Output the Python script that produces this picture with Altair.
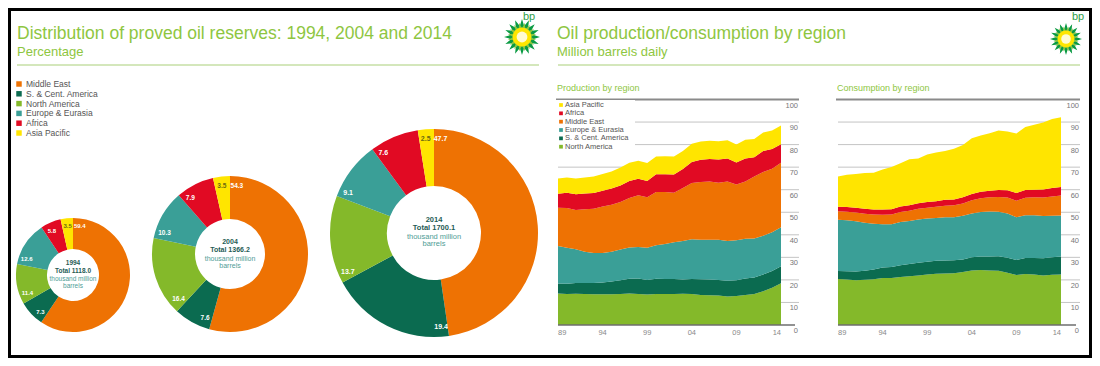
import math
import altair as alt
import pandas as pd

# ---------------- data ----------------
regions = ["Middle East", "S. & Cent. America", "North America",
           "Europe & Eurasia", "Africa", "Asia Pacific"]
region_colors = ["#ee7203", "#0b6b50", "#84b92a", "#3a9f97", "#e10a23", "#ffe500"]

reserve_years = [1994, 2004, 2014]
reserve_totals = ["1118.0", "1366.2", "1700.1"]
reserves_1994 = [59.4, 7.3, 11.4, 12.6, 5.8, 3.5]
reserves_2004 = [54.3, 7.6, 16.4, 10.3, 7.9, 3.5]
reserves_2014 = [47.7, 19.4, 13.7, 9.1, 7.6, 2.5]

years = list(range(1989, 2015))
# production, million barrels daily
prod_north_america = [14.0, 13.8, 13.9, 13.8, 13.6, 13.6, 13.6, 13.8, 14.0, 13.8, 13.5, 13.7, 13.7,
                      13.8, 13.9, 13.7, 13.3, 13.2, 13.1, 12.6, 12.9, 13.3, 13.7, 15.0, 16.5, 18.5]
prod_sc_america = [4.4, 4.5, 4.7, 4.8, 5.0, 5.3, 5.7, 6.1, 6.5, 6.8, 6.5, 6.8, 6.7,
                   6.6, 6.3, 6.7, 7.0, 7.0, 6.9, 7.0, 7.0, 7.3, 7.4, 7.4, 7.4, 7.6]
prod_europe_eurasia = [16.6, 16.0, 15.0, 13.9, 13.3, 13.0, 13.2, 13.6, 13.9, 14.0, 14.3, 14.9, 15.5,
                       16.3, 17.0, 17.6, 17.5, 17.6, 17.8, 17.6, 17.7, 17.7, 17.3, 17.2, 17.2, 17.2]
prod_middle_east = [17.0, 17.6, 17.4, 18.8, 19.6, 20.6, 20.8, 21.0, 21.9, 22.9, 22.3, 23.6, 23.1,
                    22.0, 23.5, 25.0, 25.6, 25.8, 25.3, 26.4, 24.7, 25.3, 27.5, 28.3, 28.2, 28.6]
prod_africa = [6.2, 6.7, 7.0, 7.0, 7.0, 7.0, 7.2, 7.4, 7.6, 7.4, 7.3, 7.8, 7.9,
               8.0, 8.5, 9.3, 9.9, 10.0, 10.3, 10.2, 9.8, 10.2, 8.5, 9.3, 8.8, 8.3]
prod_asia_pacific = [6.8, 6.8, 7.0, 7.1, 7.3, 7.5, 7.6, 7.9, 8.0, 7.9, 7.9, 7.9, 7.9,
                     8.0, 8.0, 8.1, 8.1, 8.1, 8.1, 8.1, 8.0, 8.4, 8.1, 8.2, 8.2, 8.3]
# consumption, million barrels daily
cons_north_america = [20.4, 20.2, 19.9, 20.1, 20.3, 20.8, 20.8, 21.3, 21.6, 21.9, 22.4, 22.7, 22.8,
                      23.0, 23.5, 24.2, 24.4, 24.2, 24.1, 23.2, 22.2, 22.6, 22.4, 22.0, 22.3, 22.4]
cons_sc_america = [3.5, 3.6, 3.8, 4.0, 4.3, 4.7, 4.9, 5.2, 5.5, 5.7, 5.7, 5.8, 5.8,
                   5.7, 5.6, 5.8, 6.0, 6.2, 6.4, 6.6, 6.6, 7.1, 7.3, 7.6, 7.8, 8.0]
cons_europe_eurasia = [22.8, 22.6, 22.3, 21.2, 20.3, 19.2, 19.0, 19.2, 19.0, 19.2, 19.1, 19.0, 19.2,
                       19.1, 19.3, 19.5, 19.7, 19.9, 19.7, 19.7, 19.0, 19.0, 19.0, 18.7, 18.4, 18.2]
cons_middle_east = [3.7, 3.8, 3.9, 4.0, 4.1, 4.2, 4.3, 4.4, 4.6, 4.7, 4.8, 4.9, 5.1,
                    5.3, 5.5, 5.8, 6.1, 6.3, 6.6, 7.0, 7.3, 7.7, 7.9, 8.2, 8.5, 8.8]
cons_africa = [2.0, 2.1, 2.1, 2.2, 2.2, 2.3, 2.3, 2.4, 2.4, 2.5, 2.5, 2.5, 2.6,
               2.6, 2.7, 2.8, 2.9, 2.9, 3.1, 3.3, 3.4, 3.5, 3.4, 3.6, 3.7, 3.8]
cons_asia_pacific = [13.4, 14.3, 15.0, 15.9, 16.3, 17.8, 18.8, 19.2, 20.4, 19.8, 21.1, 21.6, 21.7,
                     22.5, 23.2, 24.7, 24.9, 25.5, 26.4, 26.0, 26.4, 27.9, 28.8, 29.7, 30.6, 30.9]

tick_years = [1989, 1994, 1999, 2004, 2009, 2014]
tick_year_labels = ["89", "94", "99", "04", "09", "14"]
y_ticks = [0, 10, 20, 30, 40, 50, 60, 70, 80, 90, 100]

stack_order = ["North America", "S. & Cent. America", "Europe & Eurasia",
               "Middle East", "Africa", "Asia Pacific"]

# ---------------- tables ----------------
res_rows = []
for yr, vals in zip(reserve_years, [reserves_1994, reserves_2004, reserves_2014]):
    for i, (reg, v) in enumerate(zip(regions, vals)):
        res_rows.append({"year": yr, "region": reg, "value": v, "ord": i, "label": f"{v:.1f}"})
df_res = pd.DataFrame(res_rows)


def long_table(series):
    rows = []
    for reg, vals in series.items():
        for yr, v in zip(years, vals):
            rows.append({"year": yr, "region": reg, "value": v, "sord": stack_order.index(reg)})
    return pd.DataFrame(rows)


df_prod = long_table({
    "North America": prod_north_america, "S. & Cent. America": prod_sc_america,
    "Europe & Eurasia": prod_europe_eurasia, "Middle East": prod_middle_east,
    "Africa": prod_africa, "Asia Pacific": prod_asia_pacific})
df_cons = long_table({
    "North America": cons_north_america, "S. & Cent. America": cons_sc_america,
    "Europe & Eurasia": cons_europe_eurasia, "Middle East": cons_middle_east,
    "Africa": cons_africa, "Asia Pacific": cons_asia_pacific})

df_xt = pd.DataFrame({"year": tick_years, "lab": tick_year_labels})
df_yt = pd.DataFrame({"v": y_ticks, "lab": [str(v) for v in y_ticks]})
df_one = pd.DataFrame({"k": [0]})

color_enc = alt.Color("region:N", scale=alt.Scale(domain=regions, range=region_colors), legend=None)

GREEN = "#8ec641"
FONT = "Liberation Sans"
layers = []


def text_at(txt, x, y, size, color=GREEN, align="left", weight="normal", baseline="alphabetic", font=FONT):
    return alt.Chart(df_one).mark_text(text=txt, align=align, baseline=baseline, fontSize=size,
                                       color=color, fontWeight=weight, font=font).encode(
        x=alt.value(x), y=alt.value(y))


def hline(x1, x2, y, color, w):
    return alt.Chart(df_one).mark_rule(color=color, strokeWidth=w).encode(
        x=alt.value(x1), x2=alt.value(x2), y=alt.value(y))


def star_path(n, r_in, rot=0.0):
    pts = []
    for i in range(2 * n):
        a = rot + math.pi * i / n
        r = 1.0 if i % 2 == 0 else r_in
        pts.append(f"{r * math.sin(a):.3f},{-r * math.cos(a):.3f}")
    return "M" + " L".join(pts) + " Z"


def logo(cx, cy, r):
    out = []
    out.append(alt.Chart(df_one).mark_point(shape=star_path(16, 0.62), size=(2 * r) ** 2, filled=True,
                                            color="#0a9a43", opacity=1).encode(x=alt.value(cx), y=alt.value(cy)))
    out.append(alt.Chart(df_one).mark_point(shape=star_path(16, 0.6, math.pi / 16), size=(1.6 * r) ** 2,
                                            filled=True, color="#8cc63f", opacity=1).encode(
        x=alt.value(cx), y=alt.value(cy)))
    out.append(alt.Chart(df_one).mark_circle(size=(1.05 * r) ** 2, color="#ffe600", opacity=1).encode(
        x=alt.value(cx), y=alt.value(cy)))
    out.append(alt.Chart(df_one).mark_circle(size=(0.6 * r) ** 2, color="#fffbd2", opacity=1).encode(
        x=alt.value(cx), y=alt.value(cy)))
    return out


# ---------------- left panel ----------------
layers.append(text_at("Distribution of proved oil reserves: 1994, 2004 and 2014", 9, 31, 17.5))
layers.append(text_at("Percentage", 9, 48, 13))
layers.append(hline(9, 531, 57, "#a9cf78", 1))
layers += logo(514, 29, 18)
layers.append(text_at("bp", 521, 9, 11, color="#2e9e47", align="center", baseline="middle"))

# left legend
df_leg_l = pd.DataFrame({"region": regions, "row": list(range(6))})
yl = alt.Scale(domain=[0, 5], range=[76, 125])
layers.append(alt.Chart(df_leg_l).mark_square(size=30, opacity=1).encode(
    x=alt.value(11), y=alt.Y("row:Q", scale=yl, axis=None), color=color_enc))
layers.append(alt.Chart(df_leg_l).mark_text(align="left", baseline="middle", fontSize=8.5, color="#555",
                                            font=FONT).encode(
    x=alt.value(18), y=alt.Y("row:Q", scale=yl, axis=None), text="region:N"))

donut_layout = [
    dict(cx=65, cy=267, ro=57, ri=26, fl=6, off=2.2, rl=0.86, fc=6.5, dys=[-12, -4, 4, 11]),
    dict(cx=222, cy=246, ro=78, ri=35, fl=6.5, off=1.6, rl=0.88, fc=7, dys=[-12, -4, 5, 12]),
    dict(cx=426, cy=225, ro=104, ri=47, fl=7, off=1.1, rl=0.91, fc=7.5, dys=[-13, -5, 4, 11]),
]
for yr, tot, d in zip(reserve_years, reserve_totals, donut_layout):
    base = alt.Chart(df_res).transform_filter(alt.datum.year == yr)
    layers.append(base.mark_arc(innerRadius=d["ri"], outerRadius=d["ro"]).encode(
        theta=alt.Theta("value:Q", stack=True),
        order=alt.Order("ord:Q"),
        color=color_enc,
        x=alt.value(d["cx"]), y=alt.value(d["cy"])))
    layers.append(base.transform_window(
        cum="sum(value)", sort=[alt.SortField("ord")], frame=[None, 0]
    ).transform_calculate(
        pos=f"datum.cum - datum.value + min(datum.value / 2, {d['off']})"
    ).mark_text(radius=d["ro"] * d["rl"], fontSize=d["fl"], fontWeight="bold", font=FONT,
                align="center", baseline="middle").encode(
        theta=alt.Theta("pos:Q", stack=None, scale=alt.Scale(domain=[0, 100])),
        text="label:N",
        color=alt.condition(alt.datum.region == "Asia Pacific", alt.value("#6b6a12"), alt.value("white")),
        x=alt.value(d["cx"]), y=alt.value(d["cy"])))
    cx, cy, dys = d["cx"], d["cy"], d["dys"]
    layers.append(text_at(str(yr), cx, cy + dys[0], d["fc"], color="#1f5c55", align="center",
                          weight="bold", baseline="middle"))
    layers.append(text_at(f"Total {tot}", cx, cy + dys[1], d["fc"], color="#1f5c55", align="center",
                          weight="bold", baseline="middle"))
    layers.append(text_at("thousand million", cx, cy + dys[2], d["fc"], color="#4f9d96", align="center",
                          baseline="middle"))
    layers.append(text_at("barrels", cx, cy + dys[3], d["fc"], color="#4f9d96", align="center",
                          baseline="middle"))

# ---------------- right panel ----------------
layers.append(text_at("Oil production/consumption by region", 549, 31, 17.5))
layers.append(text_at("Million barrels daily", 549, 48, 13))
layers.append(hline(550, 1072, 57, "#a9cf78", 1))
layers += logo(1058, 31, 16)
layers.append(text_at("bp", 1070, 9, 11, color="#2e9e47", align="center", baseline="middle"))

ys = alt.Scale(domain=[0, 100], range=[317, 91.5], nice=False)


def area_panel(df, x0, x1, gx1, title):
    out = []
    xs = alt.Scale(domain=[1989, 2014], range=[x0, x1], nice=False, zero=False)
    out.append(text_at(title, x0 - 1, 80, 9, baseline="middle"))
    grid = df_yt[(df_yt.v > 0) & (df_yt.v < 100)]
    out.append(alt.Chart(grid).mark_rule(color="#c4c4c4", strokeWidth=1).encode(
        y=alt.Y("v:Q", scale=ys, axis=None), x=alt.value(x0), x2=alt.value(gx1)))
    out.append(alt.Chart(df).mark_area(opacity=1).encode(
        x=alt.X("year:Q", scale=xs, axis=None),
        y=alt.Y("value:Q", stack="zero", scale=ys, axis=None),
        color=color_enc, order=alt.Order("sord:Q")))
    top = df_yt[df_yt.v == 100]
    out.append(alt.Chart(top).mark_rule(color="#8a8a8a", strokeWidth=2).encode(
        y=alt.Y("v:Q", scale=ys, axis=None), x=alt.value(x0 - 2), x2=alt.value(gx1)))
    zero = df_yt[df_yt.v == 0]
    out.append(alt.Chart(zero).mark_rule(color="#6e6e6e", strokeWidth=1.5).encode(
        y=alt.Y("v:Q", scale=ys, axis=None), x=alt.value(x0), x2=alt.value(gx1 - 4)))
    out.append(alt.Chart(df_yt).mark_text(align="right", baseline="middle", dy=6, fontSize=7.5,
                                          color="#777", font=FONT).encode(
        y=alt.Y("v:Q", scale=ys, axis=None), x=alt.value(gx1 - 1), text="lab:N"))
    for sub, al in [(df_xt.iloc[:1], "left"), (df_xt.iloc[1:-1], "center"), (df_xt.iloc[-1:], "right")]:
        out.append(alt.Chart(sub).mark_text(align=al, baseline="middle", fontSize=7.5, color="#888",
                                            font=FONT).encode(
            x=alt.X("year:Q", scale=xs, axis=None), y=alt.value(325), text="lab:N"))
    return out


layers += area_panel(df_prod, 550, 773, 791, "Production by region")
layers += area_panel(df_cons, 830, 1053, 1072, "Consumption by region")

# production legend (on a white box)
leg_order = ["Asia Pacific", "Africa", "Middle East", "Europe & Eurasia", "S. & Cent. America", "North America"]
df_leg_p = pd.DataFrame({"region": leg_order, "row": list(range(6))})
yp = alt.Scale(domain=[0, 5], range=[97, 138.7])
layers.append(alt.Chart(df_one).mark_rect(color="white").encode(
    x=alt.value(548), x2=alt.value(627), y=alt.value(92), y2=alt.value(143)))
layers.append(alt.Chart(df_leg_p).mark_square(size=14, opacity=1).encode(
    x=alt.value(553), y=alt.Y("row:Q", scale=yp, axis=None), color=color_enc))
layers.append(alt.Chart(df_leg_p).mark_text(align="left", baseline="middle", fontSize=7.5, color="#555",
                                            font=FONT).encode(
    x=alt.value(557), y=alt.Y("row:Q", scale=yp, axis=None), text="region:N"))

# frame
layers.append(alt.Chart(df_one).mark_rect(filled=False, color="black", strokeWidth=6).encode(
    x=alt.value(0), x2=alt.value(1084), y=alt.value(0), y2=alt.value(350)))

chart = alt.layer(*layers).resolve_scale(
    x="independent", y="independent", theta="independent"
).properties(
    width=1084, height=350, padding=0, autosize=alt.AutoSizeParams(type="none")
).configure_view(strokeWidth=0)

chart.save("out.html", embed_options={"renderer": "svg", "actions": False})
